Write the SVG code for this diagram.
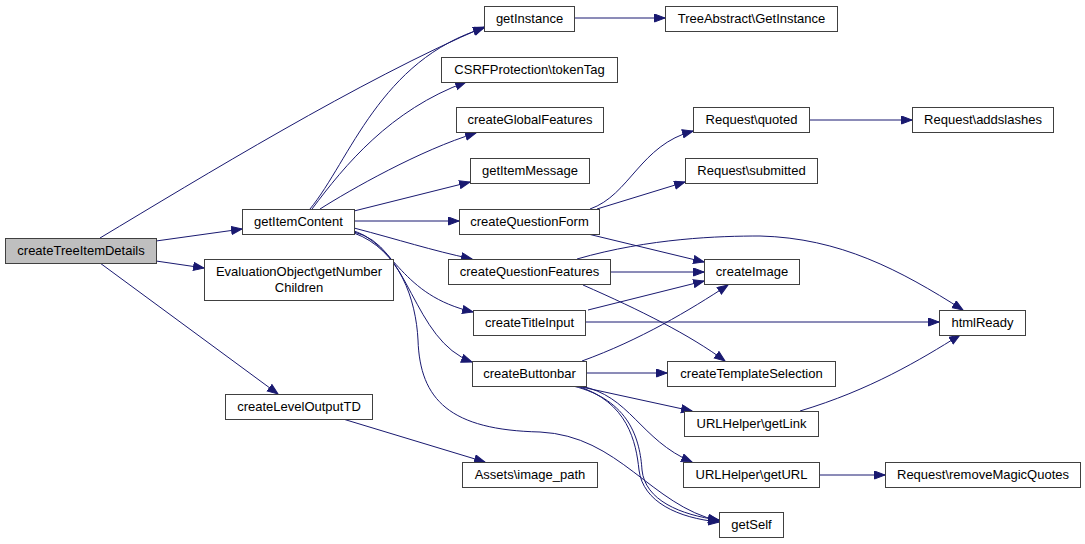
<svg xmlns="http://www.w3.org/2000/svg" width="1085" height="544" viewBox="0 0 1085 544">
<style>
.n rect{fill:#ffffff;stroke:#404040;stroke-width:1}
.n text{font-family:"Liberation Sans",Arial,sans-serif;font-size:13px;fill:#000000;text-anchor:middle}
#root rect{fill:#bfbfbf}
.e path{fill:none;stroke:#191970;stroke-width:1;marker-end:url(#ah)}
</style>
<defs>
<marker id="ah" markerWidth="13" markerHeight="10" refX="11" refY="4.5" orient="auto" markerUnits="userSpaceOnUse">
<path d="M0.5,0.5 L11,4.5 L0.5,8.5 z" fill="#191970" stroke="#191970" stroke-width="1"/>
</marker>
</defs>
<rect width="1085" height="544" fill="#ffffff"/>
<g class="e" id="edges">
<path d="M100,238 C200,178 360,80 484,27"/>
<path d="M156,241 L242,229"/>
<path d="M156,261 L204,268"/>
<path d="M100,263 L278,394"/>
<path d="M310,209 C350,160 380,60 484,28"/>
<path d="M312,209 C345,165 390,110 466,82"/>
<path d="M320,209 C350,190 420,150 476,133"/>
<path d="M354,211 L470,182"/>
<path d="M354,221 L459,221"/>
<path d="M354,228 C400,240 430,250 472,259"/>
<path d="M354,231 C395,245 400,295 473,312"/>
<path d="M354,232 C410,245 412,340 472,362"/>
<path d="M354,233 C400,250 416,300 418,340 C420,400 450,430 540,432 C620,436 650,505 719,521"/>
<path d="M343,419 L485,462"/>
<path d="M574,18 L665,18"/>
<path d="M590,209 C630,195 640,145 693,131"/>
<path d="M597,209 L685,182"/>
<path d="M588,234 L704,262"/>
<path d="M577,259 C650,238 720,236 760,236 C840,238 900,270 963,310"/>
<path d="M610,272 L704,272"/>
<path d="M583,285 C640,310 690,335 725,361"/>
<path d="M588,310 L704,281"/>
<path d="M585,322 L939,322"/>
<path d="M582,361 C640,340 690,310 728,285"/>
<path d="M586,373 L667,373"/>
<path d="M577,386 L692,411"/>
<path d="M580,386 C630,395 640,440 692,462"/>
<path d="M573,386 C630,400 640,440 642,470 C645,500 680,515 719,520"/>
<path d="M577,386 C628,402 636,442 639,470 C643,502 678,518 719,522"/>
<path d="M809,120 L912,120"/>
<path d="M800,411 C870,390 920,360 960,335"/>
<path d="M819,475 L885,475"/>
</g>
<g class="n" id="root"><rect x="5.5" y="238.5" width="151" height="25"/><text x="81" y="255">createTreeItemDetails</text></g>
<g class="n" id="getItemContent"><rect x="242.5" y="209.5" width="112" height="25"/><text x="298.5" y="226">getItemContent</text></g>
<g class="n" id="getNumberChildren"><rect x="204.5" y="259.5" width="189" height="41"/><text x="299" y="276">EvaluationObject\getNumber</text><text x="299" y="292">Children</text></g>
<g class="n" id="createLevelOutputTD"><rect x="225.5" y="394.5" width="147" height="25"/><text x="299" y="411">createLevelOutputTD</text></g>
<g class="n" id="image_path"><rect x="462.5" y="462.5" width="135" height="25"/><text x="530" y="479">Assets\image_path</text></g>
<g class="n" id="getInstance"><rect x="484.5" y="6.5" width="90" height="25"/><text x="529.5" y="23">getInstance</text></g>
<g class="n" id="TreeAbstractGetInstance"><rect x="665.5" y="6.5" width="172" height="25"/><text x="751.5" y="23">TreeAbstract\GetInstance</text></g>
<g class="n" id="tokenTag"><rect x="441.5" y="57.5" width="176" height="25"/><text x="529.5" y="74">CSRFProtection\tokenTag</text></g>
<g class="n" id="createGlobalFeatures"><rect x="456.5" y="107.5" width="147" height="25"/><text x="530" y="124">createGlobalFeatures</text></g>
<g class="n" id="getItemMessage"><rect x="470.5" y="158.5" width="119" height="25"/><text x="530" y="175">getItemMessage</text></g>
<g class="n" id="createQuestionForm"><rect x="459.5" y="209.5" width="140" height="25"/><text x="529.5" y="226">createQuestionForm</text></g>
<g class="n" id="createQuestionFeatures"><rect x="448.5" y="259.5" width="162" height="25"/><text x="529.5" y="276">createQuestionFeatures</text></g>
<g class="n" id="createTitleInput"><rect x="473.5" y="310.5" width="112" height="25"/><text x="529.5" y="327">createTitleInput</text></g>
<g class="n" id="createButtonbar"><rect x="472.5" y="361.5" width="114" height="25"/><text x="529.5" y="378">createButtonbar</text></g>
<g class="n" id="quoted"><rect x="693.5" y="107.5" width="116" height="25"/><text x="751.5" y="124">Request\quoted</text></g>
<g class="n" id="submitted"><rect x="685.5" y="158.5" width="132" height="25"/><text x="751.5" y="175">Request\submitted</text></g>
<g class="n" id="addslashes"><rect x="912.5" y="107.5" width="141" height="25"/><text x="983" y="124">Request\addslashes</text></g>
<g class="n" id="createImage"><rect x="704.5" y="259.5" width="95" height="25"/><text x="752" y="276">createImage</text></g>
<g class="n" id="htmlReady"><rect x="939.5" y="310.5" width="86" height="25"/><text x="982.5" y="327">htmlReady</text></g>
<g class="n" id="createTemplateSelection"><rect x="667.5" y="361.5" width="168" height="25"/><text x="751.5" y="378">createTemplateSelection</text></g>
<g class="n" id="getLink"><rect x="684.5" y="411.5" width="134" height="25"/><text x="751.5" y="428">URLHelper\getLink</text></g>
<g class="n" id="getURL"><rect x="683.5" y="462.5" width="136" height="25"/><text x="751.5" y="479">URLHelper\getURL</text></g>
<g class="n" id="removeMagicQuotes"><rect x="885.5" y="462.5" width="195" height="25"/><text x="983" y="479">Request\removeMagicQuotes</text></g>
<g class="n" id="getSelf"><rect x="719.5" y="512.5" width="64" height="25"/><text x="751.5" y="529">getSelf</text></g>
</svg>
